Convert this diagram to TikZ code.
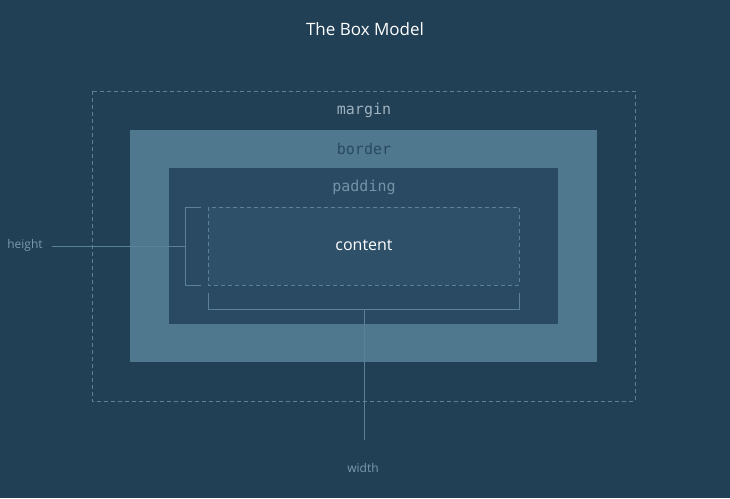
\documentclass[tikz,border=0pt]{standalone}
\usepackage{fontspec}
\setmainfont{Open Sans}
\newfontfamily\monof{DejaVu Sans Mono}
\definecolor{bg}{HTML}{213F55}
\definecolor{bordc}{HTML}{4F778E}
\definecolor{padc}{HTML}{294A62}
\definecolor{contc}{HTML}{2E5069}
\definecolor{linec}{HTML}{5A8199}
\definecolor{dashc}{HTML}{5F7F94}
\begin{document}
\begin{tikzpicture}[x=1pt,y=-1pt,
  lbl/.style={font=\monof\fontsize{15}{17}\selectfont},
  dim/.style={draw=linec,line width=1pt},
  side/.style={text=linec!80!white,font=\fontsize{12}{14}\selectfont}]
\fill[bg] (0,0) rectangle (730,498);
\useasboundingbox (0,0) rectangle (730,498);
\node[text=white,font=\fontsize{17}{20}\selectfont] (title) at (365,29) {The Box Model};
\draw[dashc,dashed,dash pattern=on 4pt off 3pt] (92,91) rectangle (635,401);
\fill[bordc] (130,130) rectangle (597,362);
\fill[padc] (169,168) rectangle (558,324);
\fill[contc] (208,207) rectangle (519,285);
\draw[dashc,dash pattern=on 4pt off 3pt] (208,207) rectangle (519,285);
\node[lbl,text=dashc!60!white] (margin) at (364,110) {margin};
\node[lbl,text=padc] (border) at (364,149) {border};
\node[lbl,text=linec!85!white] (padding) at (364,187) {padding};
\node[text=white,font=\fontsize{16}{19}\selectfont] (content) at (364,245) {content};
\node[side] (height) at (25,245) {height};
\node[side] (width) at (363,468) {width};
\coordinate (hb) at (185,246);
\coordinate (wb) at (364,309);
\coordinate (hend) at (52,246);
\coordinate (wend) at (364,440);
\draw[dim] (201,207) -- (185,207) -- (185,285) -- (201,285);
\draw[dim] (208,293) -- (208,309) -- (519,309) -- (519,293);
\draw[dim] (hend) -- (hb);
\draw[dim] (wb) -- (wend);
\end{tikzpicture}
\end{document}
